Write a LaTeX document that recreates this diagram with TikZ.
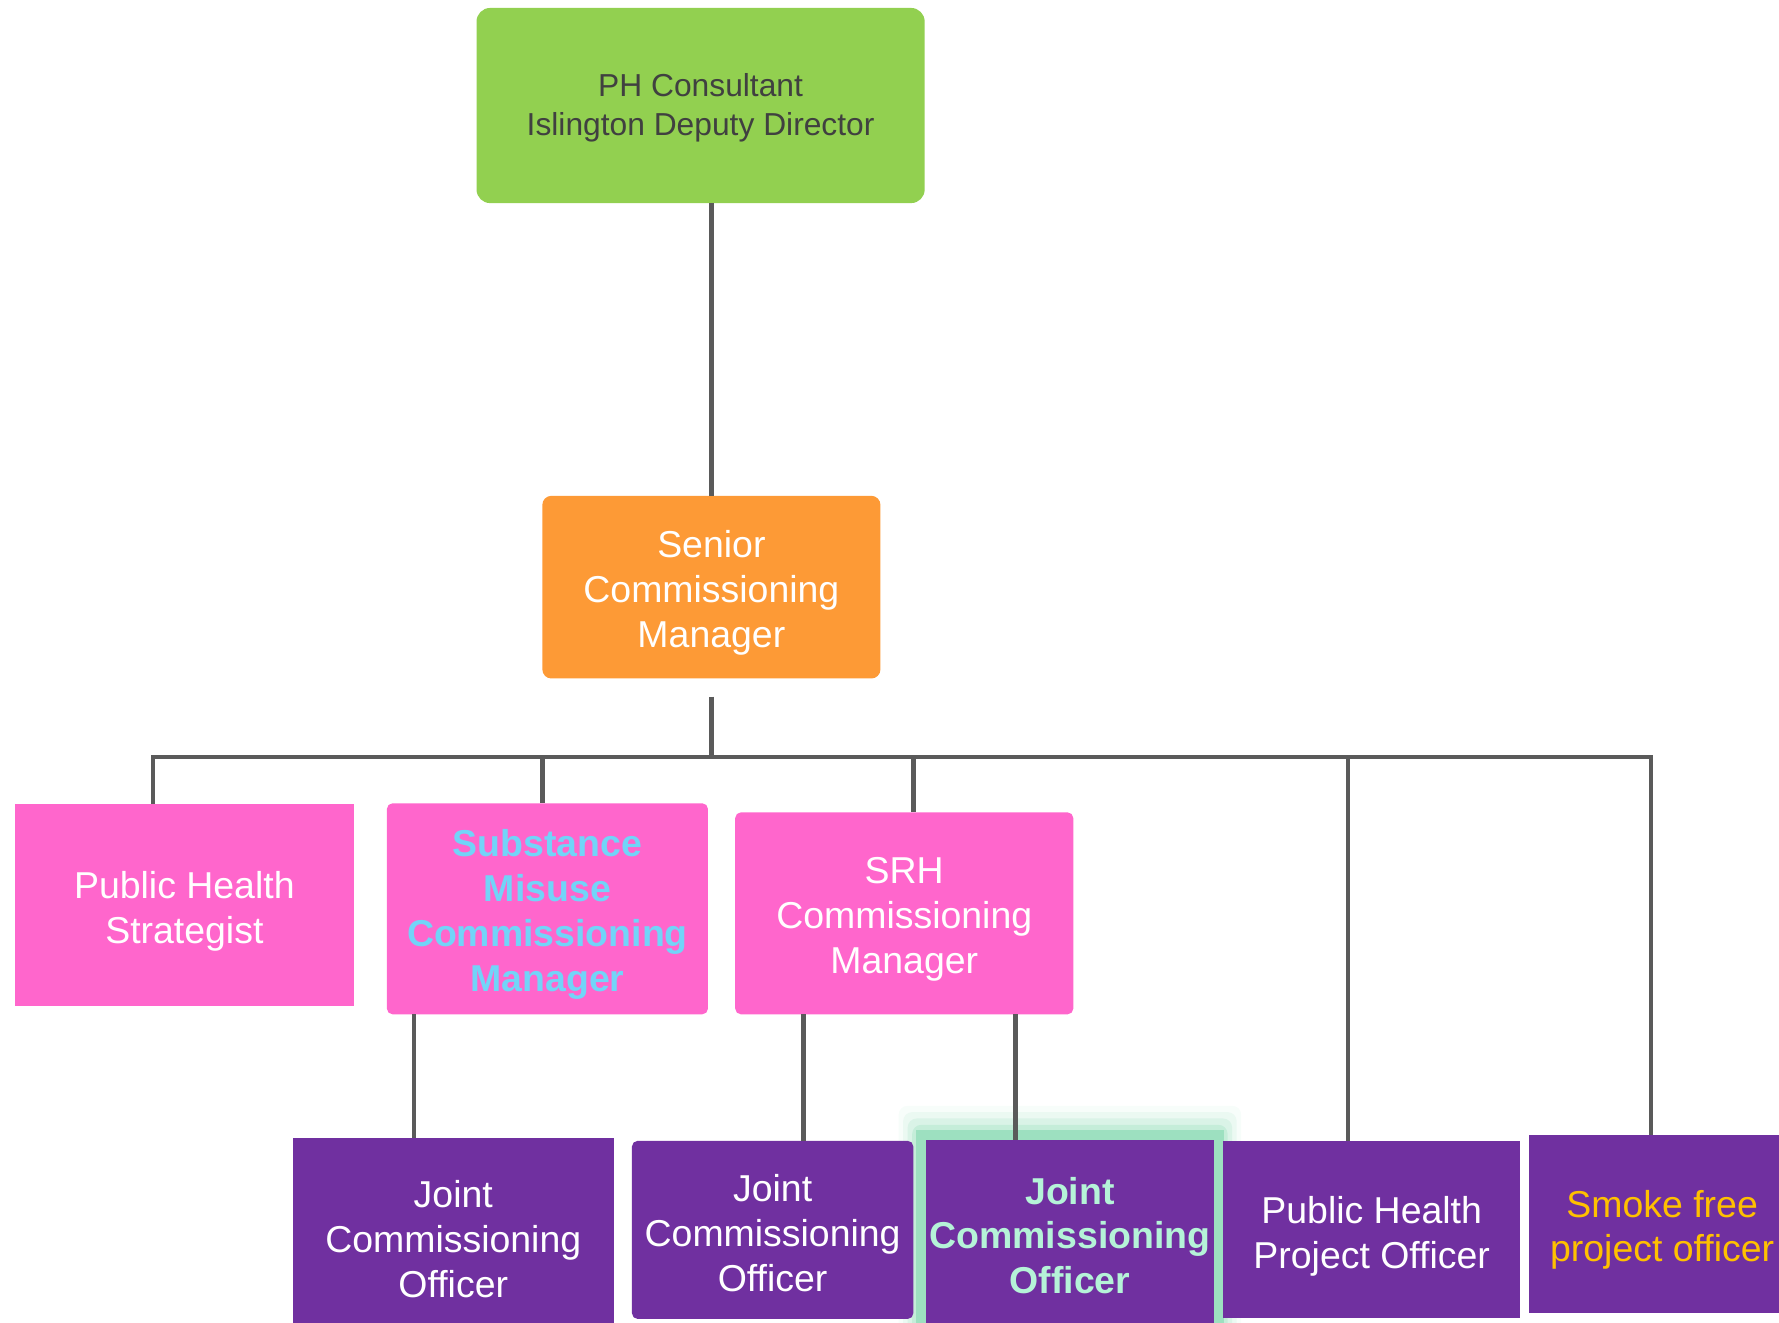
\documentclass[tikz,border=0pt]{standalone}
\usepackage{fontspec}
\setmainfont{Liberation Sans}
\definecolor{cgreen}{HTML}{92D050}
\definecolor{corange}{HTML}{FD9A36}
\definecolor{cpink}{HTML}{FF66CC}
\definecolor{cpurple}{HTML}{7030A0}
\definecolor{cline}{HTML}{5A5A5A}
\definecolor{cblue}{HTML}{72D4F8}
\definecolor{cmint}{HTML}{B5F3D8}
\definecolor{cglow}{HTML}{9DE0C0}
\definecolor{cgold}{HTML}{FFC000}
\definecolor{cdark}{HTML}{404040}
\begin{document}
\begin{tikzpicture}[x=1pt,y=-1pt,
  orgbox/.style={inner sep=0pt},
  txt/.style={inner sep=0pt, align=center, text=white,
    font=\fontsize{33}{39.5}\selectfont},
  conn/.style={draw=cline, line width=4pt}]
\useasboundingbox (0,0) rectangle (1568,1165.2);
\clip (0,0) rectangle (1568,1165.2);
% glow behind the highlighted officer box
\foreach \g/\o in {16/0.08,12/0.14,8/0.22,4/0.35} {
  \fill[cglow, opacity=\o, rounded corners=8pt] (808-\g,997-\g*1.4) rectangle (1078+\g,1180);
}
\fill[cglow] (807,996) rectangle (1079,1180);
% boxes
\node[orgbox, fill=cgreen, rounded corners=12pt, minimum width=395pt, minimum height=172pt] (top) at (617.5,93) {};
\node[orgbox, fill=corange, rounded corners=8pt, minimum width=298pt, minimum height=161pt] (scm) at (627,517.5) {};
\node[orgbox, fill=cpink, minimum width=299pt, minimum height=178pt] (phs) at (162.5,798) {};
\node[orgbox, fill=cpink, rounded corners=5pt, minimum width=283pt, minimum height=186pt] (sm) at (482.5,801) {};
\node[orgbox, fill=cpink, rounded corners=5pt, minimum width=298pt, minimum height=178pt] (srh) at (797,805) {};
\node[orgbox, fill=cpurple, minimum width=283pt, minimum height=176pt] (jco1) at (399.5,1091) {};
\node[orgbox, fill=cpurple, rounded corners=5pt, minimum width=248pt, minimum height=157pt] (jco2) at (681,1084) {};
\node[orgbox, fill=cpurple, minimum width=254pt, minimum height=162pt] (jco3) at (943,1086) {};
\node[orgbox, fill=cpurple, minimum width=262pt, minimum height=156pt] (phpo) at (1209,1084) {};
\node[orgbox, fill=cpurple, minimum width=234pt, minimum height=157pt] (smoke) at (1465,1079) {};
% texts
\node[txt, text=cdark, font=\fontsize{28}{34}\selectfont] (topt) at ([yshift=-2pt]top.center) {PH Consultant\\Islington Deputy Director};
\node[txt] (scmt) at ([yshift=-5pt]scm.center) {Senior\\Commissioning\\Manager};
\node[txt] (phst) at ([yshift=-5pt]phs.center) {Public Health\\Strategist};
\node[txt, text=cblue, font=\fontsize{33}{39.5}\selectfont\bfseries] (smt) at ([yshift=-5pt]sm.center) {Substance\\Misuse\\Commissioning\\Manager};
\node[txt] (srht) at ([yshift=-5pt]srh.center) {SRH\\Commissioning\\Manager};
\node[txt] (jco1t) at ([yshift=-1pt]jco1.center) {Joint\\Commissioning\\Officer};
\node[txt] (jco2t) at ([yshift=-3pt]jco2.center) {Joint\\Commissioning\\Officer};
\node[txt, text=cmint, font=\fontsize{33}{39.5}\selectfont\bfseries] (jco3t) at ([yshift=-3pt]jco3.center) {Joint\\Commissioning\\Officer};
\node[txt] (phpot) at ([yshift=-6pt]phpo.center) {Public Health\\Project Officer};
\node[txt, text=cgold] (smoket) at ([yshift=-5pt]smoke.center) {Smoke free\\project officer};
% connectors
\draw[conn] (scm.north) -- (scm.north |- top.south);
\coordinate (bt) at (627,614);
\coordinate (bj) at (627,667);
\coordinate (bl) at (135,667);
\coordinate (br) at (1455,667);
\coordinate (d2) at (478,667);
\coordinate (d3) at (805,667);
\coordinate (d5) at (1188,667);
\draw[conn] (bt) -- (bj);
\draw[conn, line cap=rect] (bl) -- (br);
\draw[conn] (bl) -- (bl |- phs.north);
\draw[conn] (d2) -- (d2 |- sm.north);
\draw[conn] (d3) -- (d3 |- srh.north);
\draw[conn] (d5) -- (d5 |- phpo.north);
\draw[conn] (br) -- (br |- smoke.north);
\coordinate (s1) at (365,894);
\coordinate (s2) at (708,894);
\coordinate (s3) at (895,894);
\draw[conn] (s1) -- (s1 |- jco1.north);
\draw[conn] (s2) -- (s2 |- jco2.north);
\draw[conn] (s3) -- (s3 |- jco3.north);
\end{tikzpicture}
\end{document}
